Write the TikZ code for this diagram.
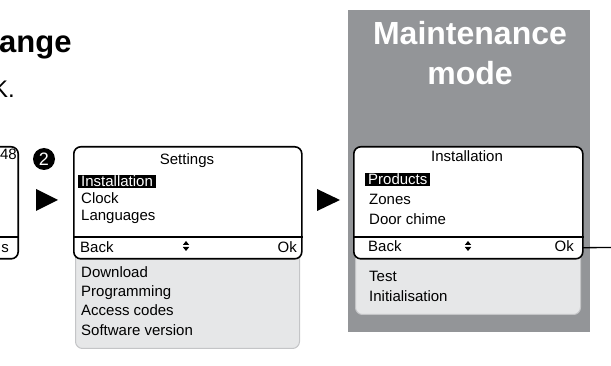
\documentclass[tikz,border=0pt]{standalone}
\usepackage{fontspec}
\setmainfont{Liberation Sans}
\usetikzlibrary{positioning}
\definecolor{modegray}{RGB}{147,149,152}
\definecolor{panelfill}{RGB}{230,231,232}
\definecolor{paneledge}{RGB}{196,197,199}

\tikzset{updown/.pic={
    \fill (-3.2,-1) -- (3.2,-1) -- (0,-5) -- cycle;
    \fill (-3.2,1) -- (3.2,1) -- (0,5) -- cycle;}}

\begin{document}
\begin{tikzpicture}[x=1pt, y=-1pt,
    every node/.style={font=\fontsize{15}{18}\selectfont, inner sep=0pt},
    screen/.style={draw, line width=1.6pt, fill=white, rounded corners=7pt, anchor=north west, minimum height=112pt},
    panel/.style={draw=paneledge, line width=1pt, fill=panelfill, rounded corners=7pt, anchor=north west},
    item/.style={anchor=base west},
    hl/.style={anchor=base west, fill=black, text=white, inner xsep=3pt, inner ysep=1pt, text height=10.5pt, text depth=0.5pt},
    modetext/.style={text=white, font=\fontsize{32}{40}\selectfont\bfseries, anchor=base},
    pointer/.style={fill=black}]
    \useasboundingbox (0,0) rectangle (611,366);
    \clip (0,0) rectangle (611,366);

    \node[font=\fontsize{31}{36}\selectfont\bfseries, anchor=base west] (title) at (-1,53) {ange};
    \node[font=\fontsize{24}{28}\selectfont, anchor=base east] (note) at (15,98) {K.};

    % previous screen, cut off
    \node[screen, anchor=north east, minimum width=170pt] (prevscr) at (19,146) {};
    \draw[line width=1.6pt] (prevscr.west |- 0,237) -- (prevscr.east |- 0,237);
    \node[anchor=base east] (prevtime) at (17,160) {48};
    \node[anchor=base east] (prevok) at (9,253) {s};

    \node[circle, fill=black, text=white, minimum size=22pt, font=\fontsize{18}{18}\selectfont] (step2) at (44,159) {2};
    \fill[pointer] (36,189) -- (36,211) -- (58,200) -- cycle;

    % Settings
    \node[panel, minimum width=224pt, minimum height=118pt] (setpan) at (75,230) {};
    \node[screen, minimum width=228pt] (setscr) at (73,146) {};
    \draw[line width=1.6pt] (setscr.west |- 0,237) -- (setscr.east |- 0,237);
    \node[anchor=base] (settitle) at (187,165) {Settings};
    \node[hl] (setinst) at (78,187) {Installation};
    \node[item] (setclock) at (81,204) {Clock};
    \node[item] (setlang) at (81,221) {Languages};
    \node[item] (setback) at (80,253) {Back};
    \pic at (186,246) {updown};
    \node[anchor=base east] (setok) at (297,253) {Ok};
    \node[item] (setdl) at (81,278) {Download};
    \node[item] (setprog) at (81,297) {Programming};
    \node[item] (setacc) at (81,316) {Access codes};
    \node[item] (setsw) at (81,335) {Software version};

    \fill[pointer] (317,189) -- (317,211) -- (340,200) -- cycle;

    % Maintenance mode
    \node[fill=modegray, anchor=north west, minimum width=242pt, minimum height=322pt] (mode) at (348,10) {};
    \node[modetext] (modetitle) at (470,45) {Maintenance};
    \node[modetext] (modesub) at (470,85) {mode};
    \node[panel, minimum width=225pt, minimum height=84pt] (instpan) at (355,230) {};
    \node[screen, minimum width=229pt] (instscr) at (353,146) {};
    \draw[line width=1.6pt] (instscr.west |- 0,237) -- (instscr.east |- 0,237);
    \node[minimum width=229pt, minimum height=21pt, anchor=north west] (instbar) at (353,237) {};
    \node[anchor=base] (insttitle) at (467,162) {Installation};
    \node[hl] (instprod) at (365,185) {Products};
    \node[item] (instzones) at (369,205) {Zones};
    \node[item] (instchime) at (369,225) {Door chime};
    \node[item] (instback) at (368,252) {Back};
    \pic at (468,246) {updown};
    \node[anchor=base east] (instok) at (574,252) {Ok};
    \node[item] (insttest) at (369,282) {Test};
    \node[item] (instinit) at (369,302) {Initialisation};

    \coordinate (tail) at (611,247.5);
    \draw[line width=1.3pt] (instbar.east) -- (tail);
\end{tikzpicture}
\end{document}
